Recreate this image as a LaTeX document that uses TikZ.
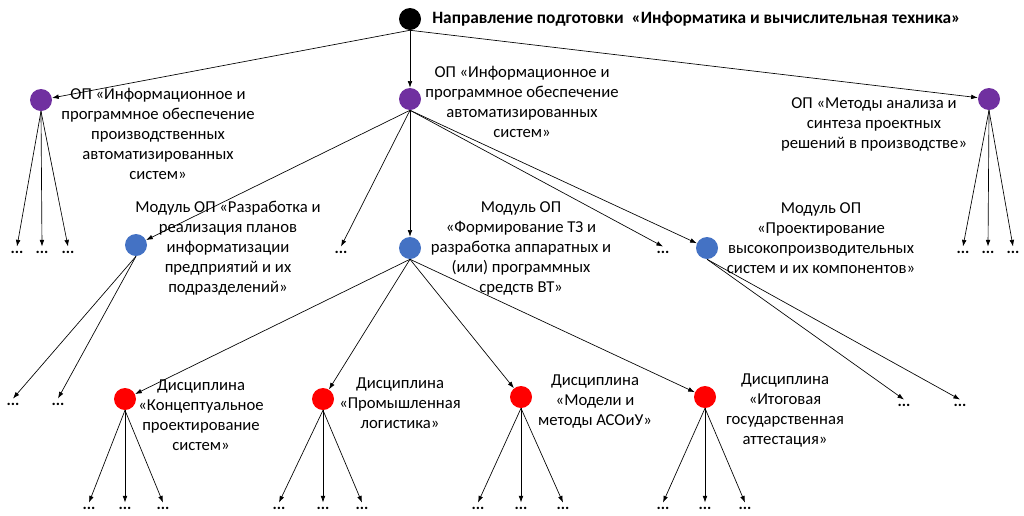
\documentclass[tikz,border=0pt]{standalone}
\usepackage{fontspec}
\setmainfont{Carlito}
\usetikzlibrary{arrows.meta}

\definecolor{opcol}{HTML}{7030A0}
\definecolor{modcol}{HTML}{4472C4}
\definecolor{disccol}{HTML}{FF0000}

\begin{document}
\begin{tikzpicture}[>=Latex,x=0.75pt,y=-0.75pt,
  lbl/.style={align=center,inner sep=0pt,font=\fontsize{12.5}{15}\selectfont},
  pt/.style={circle,minimum size=16.5pt,inner sep=0pt},
  dots/.style={inner sep=3pt,font=\fontsize{12}{14}\selectfont\bfseries},
  edge/.style={-{Latex[length=5pt,width=3.5pt]},line width=0.5pt}]
  \useasboundingbox (0,0) rectangle (1024,515);
  % root
  \node[pt,fill=black] (root) at (410,19) {};
  \node[lbl,anchor=west,font=\fontsize{13}{15}\selectfont\bfseries] (rootlbl) at (432,19) {Направление подготовки \ «Информатика и вычислительная техника»};
  % educational programmes
  \node[pt,fill=opcol] (opA) at (41,100) {};
  \node[pt,fill=opcol] (opB) at (410,99) {};
  \node[pt,fill=opcol] (opC) at (989,99) {};
  \node[lbl] (opAlbl) at (158,134) {ОП «Информационное и\\программное обеспечение\\производственных\\автоматизированных\\систем»};
  \node[lbl] (opBlbl) at (522,102) {ОП «Информационное и\\программное обеспечение\\автоматизированных\\систем»};
  \node[lbl] (opClbl) at (874,124) {ОП «Методы анализа и\\синтеза проектных\\решений в производстве»};
  \foreach \n in {opA,opB,opC} \draw[edge] (root.south) -- (\n);
  \foreach \x [count=\i] in {17,42,68} {
    \node[dots] (a\i) at (\x,252) {...};
    \draw[edge] (opA.south) -- (a\i.north);
  }
  \foreach \x [count=\i] in {963,988,1013} {
    \node[dots] (c\i) at (\x,252) {...};
    \draw[edge] (opC.south) -- (c\i.north);
  }
  % modules
  \node[pt,fill=modcol] (modA) at (136,245) {};
  \node[pt,fill=modcol] (modB) at (410,248) {};
  \node[pt,fill=modcol] (modC) at (707,248) {};
  \node[lbl] (modAlbl) at (228,248) {Модуль ОП «Разработка и\\реализация планов\\информатизации\\предприятий и их\\подразделений»};
  \node[lbl] (modBlbl) at (521,248) {Модуль ОП\\«Формирование ТЗ и\\разработка аппаратных и\\(или) программных\\средств ВТ»};
  \node[lbl] (modClbl) at (821,238) {Модуль ОП\\«Проектирование\\высокопроизводительных\\систем и их компонентов»};
  \node[dots] (b1) at (341,252) {...};
  \node[dots] (b2) at (663,252) {...};
  \foreach \n in {modA,modB,modC} \draw[edge] (opB.south) -- (\n);
  \foreach \n in {b1,b2} \draw[edge] (opB.south) -- (\n.north);
  \foreach \x [count=\i] in {13,58} {
    \node[dots] (ma\i) at (\x,404) {...};
    \draw[edge] (modA.south) -- (ma\i.north);
  }
  \foreach \x [count=\i] in {904,960} {
    \node[dots] (mc\i) at (\x,405) {...};
    \draw[edge] (modC.south) -- (mc\i.north);
  }
  % disciplines
  \node[pt,fill=disccol] (dA) at (125,399) {};
  \node[pt,fill=disccol] (dB) at (323,399) {};
  \node[pt,fill=disccol] (dC) at (521,397) {};
  \node[pt,fill=disccol] (dD) at (705,397) {};
  \node[lbl] (dAlbl) at (201,415) {Дисциплина\\«Концептуальное\\проектирование\\систем»};
  \node[lbl] (dBlbl) at (400,403) {Дисциплина\\«Промышленная\\логистика»};
  \node[lbl] (dClbl) at (595,402) {Дисциплина\\«Модели и\\методы АСОиУ»};
  \node[lbl] (dDlbl) at (785,411) {Дисциплина\\«Итоговая\\государственная\\аттестация»};
  \foreach \n in {dA,dB,dC,dD} \draw[edge] (modB.south) -- (\n);
  \foreach \n/\xa/\xb/\xc in {dA/89/125/163,dB/279/323/362,dC/478/521/563,dD/663/705/745} {
    \node[dots] (\n1) at (\xa,508) {...};
    \node[dots] (\n2) at (\xb,508) {...};
    \node[dots] (\n3) at (\xc,508) {...};
    \foreach \k in {1,2,3} \draw[edge] (\n.south) -- (\n\k.north);
  }
\end{tikzpicture}
\end{document}
